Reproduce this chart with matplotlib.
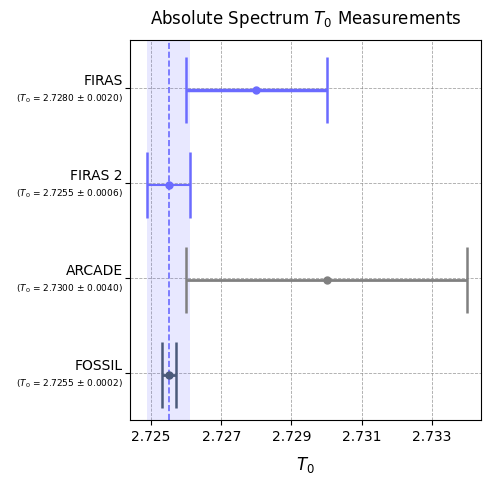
import numpy as np
from matplotlib import pyplot as plt

names = ['FIRAS', 'FIRAS 2', 'ARCADE', 'FOSSIL']
t0 = [2.7280, 2.7255, 2.7300, 2.7255]
err = [0.0020, 0.0006, 0.0040, 0.0002]
colors = ['#6b6bff', '#6b6bff', '#808080', '#4a5a7a']
widths = [2.5, 1.5, 2.0, 2.0]
ref_t0 = 2.7255
ref_err = 0.0006
xticks = [2.725, 2.727, 2.729, 2.731, 2.733]

fig, ax = plt.subplots(figsize=(4.92, 4.84), dpi=100)
fig.subplots_adjust(left=0.264, right=0.978, top=0.917, bottom=0.132)

ypos = np.arange(len(names))[::-1]
ax.axvspan(ref_t0 - ref_err, ref_t0 + ref_err, color='#6b6bff', alpha=0.15, lw=0)
ax.axvline(ref_t0, color='#6b6bff', ls='--', lw=1.2)
for y, t, e, c, w in zip(ypos, t0, err, colors, widths):
    ax.errorbar(t, y - 0.02, xerr=e, fmt='o', color=c, ms=5, elinewidth=w,
                capsize=24, capthick=1.8)

ax.set_yticks(ypos)
ax.set_yticklabels([])
for y, n, t, e in zip(ypos, names, t0, err):
    ax.text(-0.02, y, n, transform=ax.get_yaxis_transform(), ha='right', va='bottom', fontsize=10)
    ax.text(-0.02, y - 0.05, r'($T_0$ = %.4f $\pm$ %.4f)' % (t, e),
            transform=ax.get_yaxis_transform(), ha='right', va='top', fontsize=6.5)
ax.set_ylim(-0.5, 3.5)
ax.set_xlim(2.7244, 2.7344)
ax.set_xticks(xticks)
ax.set_xticklabels(['%.3f' % x for x in xticks], fontsize=10)
ax.grid(True, ls='--', lw=0.6, color='gray', alpha=0.7)
ax.set_axisbelow(True)
ax.set_xlabel(r'$T_0$', fontsize=12, labelpad=8)
ax.set_title(r'Absolute Spectrum $T_0$ Measurements', fontsize=12, pad=12)
fig.savefig('out.png')
